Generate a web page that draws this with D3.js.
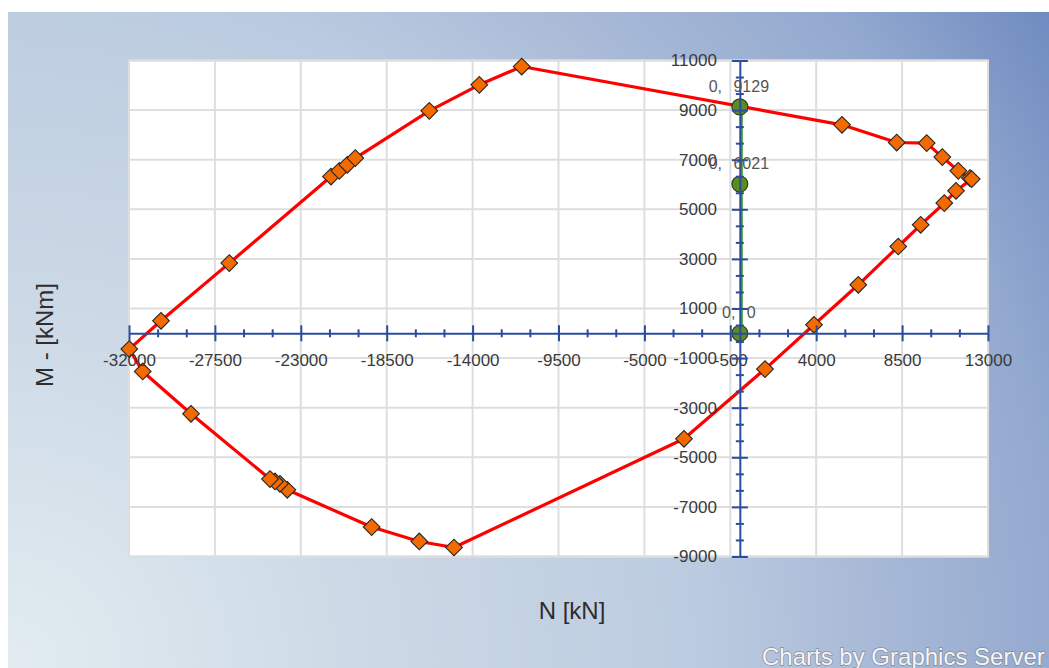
<!DOCTYPE html>
<html>
<head>
<meta charset="utf-8">
<script src="https://cdn.jsdelivr.net/npm/d3@7"></script>
<style>
  html, body { margin: 0; padding: 0; background: #ffffff; }
  svg { display: block; }
  text { font-family: "Liberation Sans", Arial, sans-serif; }
</style>
</head>
<body>
<svg id="chart" width="1049" height="668"></svg>
<script>
// Interaction diagram: axial force N [kN] vs bending moment M [kNm]
const curveN = [-31984, -30324, -26746, -21418, -20983, -20564, -20145, -16268, -13649, -11428,
                5351, 8217, 9789, 10606, 11444, 12057, 12146, 11324, 10710, 9474, 8300, 6205, 3884,
                1318, -2926, -14975, -16792, -19286, -23707, -24090, -24352, -24614, -28752, -31282];
const curveM = [-637, 504, 2830, 6322, 6552, 6794, 7064, 8971, 10019, 10757,
                8407, 7693, 7669, 7105, 6552, 6258, 6217, 5746, 5250, 4375, 3500, 1956, 343,
                -1443, -4254, -8637, -8395, -7814, -6310, -6068, -5975, -5879, -3246, -1540];

// Load cases checked against the diagram
const checkN = [0, 0, 0];
const checkM = [9129, 6021, 0];
const checkLabels = ["0, 9129", "0, 6021", "0, 0"];

// Axis ticks
const xTickValues = [-32000, -27500, -23000, -18500, -14000, -9500, -5000, -500, 4000, 8500, 13000];
const yTickValues = [11000, 9000, 7000, 5000, 3000, 1000, -1000, -3000, -5000, -7000, -9000];

const svg = d3.select("#chart");
const W = 1049, H = 668;
const plot = { left: 129, right: 988, top: 60.5, bottom: 556.5 };

// Background panel
const defs = svg.append("defs");
const grad = defs.append("radialGradient")
  .attr("id", "bg").attr("gradientUnits", "userSpaceOnUse")
  .attr("cx", 8).attr("cy", 668).attr("r", 1240);
[[0, "#e2ecf1"], [0.3, "#cbd8e5"], [0.55, "#bccce0"], [0.7, "#a8b9d7"], [0.85, "#93a9cf"], [1, "#6d89bf"]]
  .forEach(([o, c]) => grad.append("stop").attr("offset", o).attr("stop-color", c));
svg.append("rect").attr("x", 8).attr("y", 12).attr("width", W - 8).attr("height", H - 12)
  .attr("fill", "url(#bg)");

const x = d3.scaleLinear().domain([-32000, 13000]).range([plot.left, plot.right]);
const y = d3.scaleLinear().domain([-9000, 11000]).range([plot.bottom, plot.top]);

// Plot area with grid
svg.append("rect").attr("x", plot.left).attr("y", plot.top)
  .attr("width", plot.right - plot.left).attr("height", plot.bottom - plot.top)
  .attr("fill", "#ffffff").attr("stroke", "#dcdcdc").attr("stroke-width", 2);
const grid = svg.append("g").attr("stroke", "#dedede").attr("stroke-width", 2);
grid.selectAll(".gx").data(xTickValues).join("line")
  .attr("x1", d => x(d)).attr("x2", d => x(d)).attr("y1", plot.top).attr("y2", plot.bottom);
grid.selectAll(".gy").data(yTickValues).join("line")
  .attr("y1", d => y(d)).attr("y2", d => y(d)).attr("x1", plot.left).attr("x2", plot.right);

// Interaction curve
const pts = curveN.map((n, i) => [n, curveM[i]]);
svg.append("path").datum(pts)
  .attr("fill", "none").attr("stroke", "#ff0000").attr("stroke-width", 3.2).attr("stroke-linejoin", "round")
  .attr("d", d3.line().x(d => x(d[0])).y(d => y(d[1])).curve(d3.curveLinearClosed));

// Load case line
const cpts = checkN.map((n, i) => [n, checkM[i]]);
svg.append("path").datum(cpts)
  .attr("fill", "none").attr("stroke", "#3fa33a").attr("stroke-width", 3)
  .attr("d", d3.line().x(d => x(d[0]) + 1.5).y(d => y(d[1])));

// Diamond markers
svg.append("g").selectAll("path").data(pts).join("path")
  .attr("transform", d => `translate(${x(d[0])},${y(d[1])}) rotate(45)`)
  .attr("d", "M-5.9,-5.9H5.9V5.9H-5.9Z")
  .attr("fill", "#f26a00").attr("stroke", "#262626").attr("stroke-width", 1.1);

// Load case markers
svg.append("g").selectAll("circle").data(cpts).join("circle")
  .attr("cx", d => x(d[0])).attr("cy", d => y(d[1])).attr("r", 8)
  .attr("fill", "#5a8c22").attr("stroke", "#2e3a24").attr("stroke-width", 1.1);

// Axes crossing at the origin
const axisColor = "#2b4c9c";
const fmt = d => String(d);
const xMinor = d3.range(-32000, 13001, 1500).filter(v => !xTickValues.includes(v));
const yMinor = d3.range(0, 31).map(i => -9000 + i * 2000 / 3)
  .filter(v => !yTickValues.some(t => Math.abs(t - v) < 1));

function styleAxis(g, keepDomain) {
  g.selectAll("line").attr("stroke", axisColor).attr("stroke-width", 2);
  g.select(".domain").attr("stroke", axisColor).attr("stroke-width", 2);
  if (!keepDomain) g.select(".domain").remove();
  g.selectAll("text").attr("fill", "#3a3a3a").style("font-size", "17px");
}

const x0 = x(0), y0 = y(0);
const xAxisG = svg.append("g");
xAxisG.append("g").attr("transform", `translate(0,${y0})`)
  .call(d3.axisBottom(x).tickValues(xTickValues).tickSize(8).tickSizeOuter(0).tickPadding(13).tickFormat(fmt))
  .call(g => styleAxis(g, true));
xAxisG.append("g").attr("transform", `translate(0,${y0})`)
  .call(d3.axisTop(x).tickValues(xTickValues).tickSize(8).tickSizeOuter(0).tickFormat(""))
  .call(g => styleAxis(g, false));
xAxisG.append("g").attr("transform", `translate(0,${y0})`)
  .call(d3.axisBottom(x).tickValues(xMinor).tickSize(4).tickSizeOuter(0).tickFormat(""))
  .call(g => styleAxis(g, false));
xAxisG.append("g").attr("transform", `translate(0,${y0})`)
  .call(d3.axisTop(x).tickValues(xMinor).tickSize(4).tickSizeOuter(0).tickFormat(""))
  .call(g => styleAxis(g, false));

const yAxisG = svg.append("g");
yAxisG.append("g").attr("transform", `translate(${x0},0)`)
  .call(d3.axisLeft(y).tickValues(yTickValues).tickSize(8).tickSizeOuter(0).tickPadding(15).tickFormat(fmt))
  .call(g => styleAxis(g, true));
yAxisG.append("g").attr("transform", `translate(${x0},0)`)
  .call(d3.axisRight(y).tickValues(yTickValues).tickSize(8).tickSizeOuter(0).tickFormat(""))
  .call(g => styleAxis(g, false));
yAxisG.append("g").attr("transform", `translate(${x0},0)`)
  .call(d3.axisLeft(y).tickValues(yMinor).tickSize(4).tickSizeOuter(0).tickFormat(""))
  .call(g => styleAxis(g, false));
yAxisG.append("g").attr("transform", `translate(${x0},0)`)
  .call(d3.axisRight(y).tickValues(yMinor).tickSize(4).tickSizeOuter(0).tickFormat(""))
  .call(g => styleAxis(g, false));

// Load case labels
svg.append("g").selectAll("text").data(cpts).join("text")
  .attr("x", d => x(d[0]) - 1).attr("y", d => y(d[1]) - 15)
  .attr("text-anchor", "middle").attr("fill", "#555555")
  .style("font-size", "16px").style("word-spacing", "7px")
  .text((d, i) => checkLabels[i]);

// Axis titles
svg.append("text").attr("x", 572).attr("y", 619).attr("text-anchor", "middle")
  .attr("fill", "#2d2d2d").style("font-size", "24px").text("N [kN]");
svg.append("text").attr("transform", "translate(53,335) rotate(-90)").attr("text-anchor", "middle")
  .attr("fill", "#2d2d2d").style("font-size", "24px").text("M - [kNm]");

// Credit line
svg.append("text").attr("x", 762).attr("y", 665)
  .attr("fill", "#f4f6f9").attr("stroke", "#858c97").attr("stroke-width", 1.4)
  .style("paint-order", "stroke").style("font-size", "24px")
  .text("Charts by Graphics Server");
</script>
</body>
</html>
